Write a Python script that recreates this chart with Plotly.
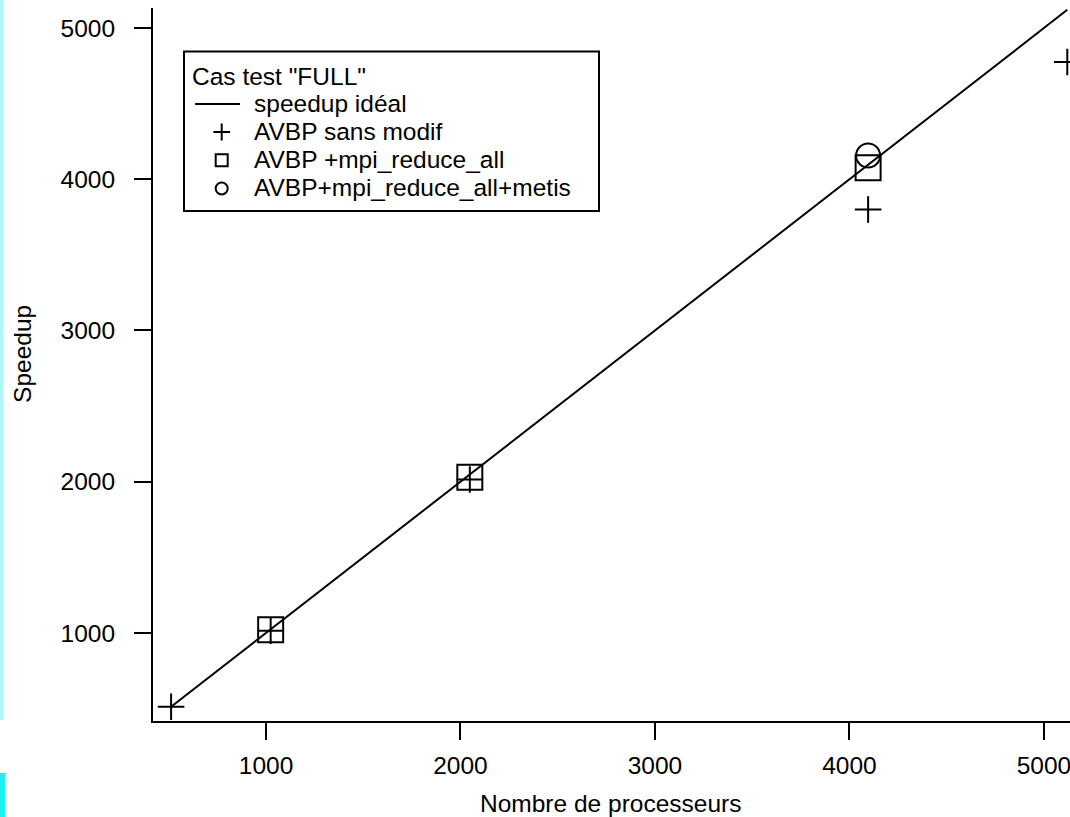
import plotly.graph_objects as go

# ---- data ----
procs_ideal = [512, 1024, 2048, 4096, 5120]
speedup_ideal = [512, 1024, 2048, 4096, 5120]

sans_modif_x = [512, 1024, 2048, 4096, 5120]
sans_modif_y = [512, 1015, 2015, 3800, 4775]

reduce_x = [1024, 2048, 4096]
reduce_y = [1022, 2030, 4076]

metis_x = [4096]
metis_y = [4157]

x_ticks = [1000, 2000, 3000, 4000, 5000]
y_ticks = [1000, 2000, 3000, 4000, 5000]

series_names = ["speedup idéal", "AVBP sans modif", "AVBP +mpi_reduce_all",
                "AVBP+mpi_reduce_all+metis"]
legend_title = 'Cas test "FULL"'
x_title = "Nombre de processeurs"
y_title = "Speedup"

# ---- styling ----
FONT = "Liberation Sans, Arial, Helvetica, sans-serif"
TXT = 24.5
W, H = 1070, 817
ML, MR, MT, MB = 153, 0, 8, 96
PW, PH = W - ML - MR, H - MT - MB


def big(s):
    return f'<span style="font-size:{TXT}px">{s}</span>'


def px_x(p):
    return (p - ML) / PW


def px_y(p):
    return (H - MB - p) / PH


fig = go.Figure()
fig.add_trace(go.Scatter(
    x=procs_ideal, y=speedup_ideal, mode="lines",
    line=dict(color="black", width=2), legend="legend",
    name='<span style="font-size:32.4px">\u00a0</span>' + big(series_names[0])))
fig.add_trace(go.Scatter(
    x=sans_modif_x, y=sans_modif_y, mode="markers", legend="legend2",
    marker=dict(symbol="cross-thin", size=19, color="black",
                line=dict(color="black", width=2)),
    name=big(series_names[1]), cliponaxis=False))
fig.add_trace(go.Scatter(
    x=reduce_x, y=reduce_y, mode="markers", legend="legend2",
    marker=dict(symbol="square-open", size=25, color="black",
                line=dict(color="black", width=2)),
    name=big(series_names[2])))
fig.add_trace(go.Scatter(
    x=metis_x, y=metis_y, mode="markers", legend="legend2",
    marker=dict(symbol="circle-open", size=24, color="black",
                line=dict(color="black", width=2)),
    name=big(series_names[3])))

axis_common = dict(showline=True, linewidth=2, linecolor="black", mirror=False,
                   ticks="outside", ticklen=17, tickwidth=2, tickcolor="black",
                   showgrid=False, zeroline=False, ticklabeloverflow="allow",
                   tickfont=dict(family=FONT, size=TXT, color="black"))

fig.update_xaxes(range=[419, 5134], tickvals=x_ticks, ticklabelstandoff=5,
                 **axis_common)
fig.update_yaxes(range=[418, 5132], tickvals=y_ticks, ticklabelstandoff=14,
                 **axis_common)

LEG_FONT = dict(family=FONT, size=19.4, color="black")

fig.update_layout(
    width=W, height=H, autosize=False,
    margin=dict(l=ML, r=MR, t=MT, b=MB, pad=0),
    paper_bgcolor="white", plot_bgcolor="white",
    font=dict(family=FONT, size=TXT, color="black"),
    showlegend=True,
    legend=dict(x=px_x(190), y=px_y(53), xanchor="left", yanchor="top",
                bgcolor="rgba(0,0,0,0)", borderwidth=0,
                itemsizing="trace", itemwidth=45, font=LEG_FONT,
                title=dict(text=legend_title,
                           font=dict(family=FONT, size=TXT, color="black"))),
    legend2=dict(x=px_x(189.4), y=px_y(112.9), xanchor="left", yanchor="top",
                 bgcolor="rgba(0,0,0,0)", borderwidth=0,
                 itemsizing="constant", itemwidth=54.6, font=LEG_FONT),
    annotations=[
        dict(text=x_title, xref="paper", yref="paper", x=px_x(610), y=px_y(803.4),
             xanchor="center", yanchor="middle", showarrow=False,
             font=dict(family=FONT, size=TXT, color="black")),
        dict(text=y_title, xref="paper", yref="paper", x=px_x(22.4), y=px_y(353.5),
             xanchor="center", yanchor="middle", showarrow=False, textangle=-90,
             font=dict(family=FONT, size=TXT, color="black")),
    ],
    shapes=[
        # legend frame
        dict(type="rect", xref="paper", yref="paper", x0=px_x(184), x1=px_x(599),
             y0=px_y(211), y1=px_y(51.5), fillcolor="white",
             line=dict(color="black", width=2), layer="above"),
        # coloured strips at the left edge of the reference image
        dict(type="rect", xref="paper", yref="paper", x0=px_x(0), x1=px_x(3),
             y0=px_y(720), y1=px_y(0), fillcolor="#b0f6f6", line=dict(width=0)),
        dict(type="rect", xref="paper", yref="paper", x0=px_x(0), x1=px_x(5),
             y0=px_y(817), y1=px_y(773), fillcolor="#20f0f0", line=dict(width=0)),
    ],
)

fig.write_html("out.html", config={"displayModeBar": False},
               post_script="document.body.style.margin='0';")
